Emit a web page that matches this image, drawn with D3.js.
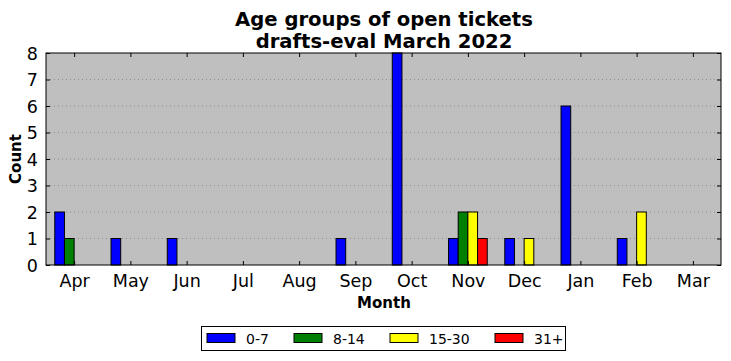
<!DOCTYPE html>
<html><head><meta charset="utf-8">
<script src="https://cdn.jsdelivr.net/npm/d3@7"></script>
<style>body{margin:0;background:#fff;} text{font-family:"DejaVu Sans",sans-serif;}</style>
</head><body>
<svg id="c" width="731" height="361"></svg>
<script>
const months = ["Apr","May","Jun","Jul","Aug","Sep","Oct","Nov","Dec","Jan","Feb","Mar"];
const groups = ["0-7","8-14","15-30","31+"];
const colors = ["#0000ff","#008000","#ffff00","#ff0000"];
const s0_7   = [2,1,1,0,0,1,8,1,1,6,1,0];
const s8_14  = [1,0,0,0,0,0,0,2,0,0,0,0];
const s15_30 = [0,0,0,0,0,0,0,2,1,0,2,0];
const s31    = [0,0,0,0,0,0,0,1,0,0,0,0];
const yTicks = [0,1,2,3,4,5,6,7,8];
const series = [s0_7, s8_14, s15_30, s31];

const svg = d3.select("#c");
const L=46, R=721, T=53, B=265;
const x = d3.scaleLinear().domain([-0.5, 11.5]).range([L, R]);
const y = d3.scaleLinear().domain([0, 8]).range([B, T]);
const w = 0.172;

svg.append("rect").attr("x",L).attr("y",T).attr("width",R-L).attr("height",B-T).attr("fill","#bfbfbf");

// grid
svg.append("g").selectAll("line").data(yTicks.slice(1,-1)).join("line")
  .attr("x1",L).attr("x2",R).attr("y1",d=>y(d)).attr("y2",d=>y(d))
  .attr("stroke","#808080").attr("stroke-width",0.8).attr("stroke-dasharray","1,3");

// bars
series.forEach((s,k)=>{
  svg.append("g").selectAll("rect").data(s).join("rect")
    .attr("x",(d,i)=>x(i+(k-2)*w))
    .attr("width",x(w)-x(0))
    .attr("y",d=>y(d))
    .attr("height",d=>y(0)-y(d))
    .attr("fill",colors[k]).attr("stroke","#000").attr("stroke-width",1);
});

// frame
svg.append("rect").attr("x",L).attr("y",T).attr("width",R-L).attr("height",B-T)
  .attr("fill","none").attr("stroke","#000").attr("stroke-width",1);

const xb = svg.append("g").attr("transform",`translate(0,${B})`)
  .call(d3.axisBottom(x).tickValues(d3.range(12)).tickFormat(i=>months[i]).tickSize(-4).tickPadding(10));
const xt = svg.append("g").attr("transform",`translate(0,${T})`)
  .call(d3.axisTop(x).tickValues(d3.range(12)).tickFormat("").tickSize(-4));
const yl = svg.append("g").attr("transform",`translate(${L},0)`)
  .call(d3.axisLeft(y).tickValues(yTicks).tickFormat(d3.format("d")).tickSize(-4).tickPadding(8));
const yr = svg.append("g").attr("transform",`translate(${R},0)`)
  .call(d3.axisRight(y).tickValues(yTicks).tickFormat("").tickSize(-4));
[xb,xt,yl,yr].forEach(g=>{
  g.select(".domain").remove();
  g.selectAll("line").attr("stroke","#000");
  g.selectAll("text").attr("font-family","DejaVu Sans").attr("font-size",17.5).attr("fill","#000");
});
xb.selectAll("text").attr("dy","0.68em");
yl.selectAll("text").attr("dy","0.36em");

// titles
svg.append("text").attr("x",384).attr("y",26).attr("text-anchor","middle")
  .attr("font-size",19.6).attr("font-weight","bold").text("Age groups of open tickets");
svg.append("text").attr("x",384).attr("y",48).attr("text-anchor","middle")
  .attr("font-size",19.6).attr("font-weight","bold").text("drafts-eval March 2022");
svg.append("text").attr("x",384).attr("y",308).attr("text-anchor","middle")
  .attr("font-size",15).attr("font-weight","bold").text("Month");
svg.append("text").attr("transform","translate(21,159) rotate(-90)").attr("text-anchor","middle")
  .attr("font-size",15).attr("font-weight","bold").text("Count");

// legend
const lg = svg.append("g");
lg.append("rect").attr("x",201.5).attr("y",326.5).attr("width",364).attr("height",24)
  .attr("fill","#fff").attr("stroke","#000");
const lx = [207, 294, 390, 495];
groups.forEach((g,k)=>{
  lg.append("rect").attr("x",lx[k]).attr("y",333.5).attr("width",28).attr("height",9)
    .attr("fill",colors[k]).attr("stroke","#000");
  lg.append("text").attr("x",lx[k]+39).attr("y",343.5).attr("font-size",14).text(g);
});
</script>
</body></html>
